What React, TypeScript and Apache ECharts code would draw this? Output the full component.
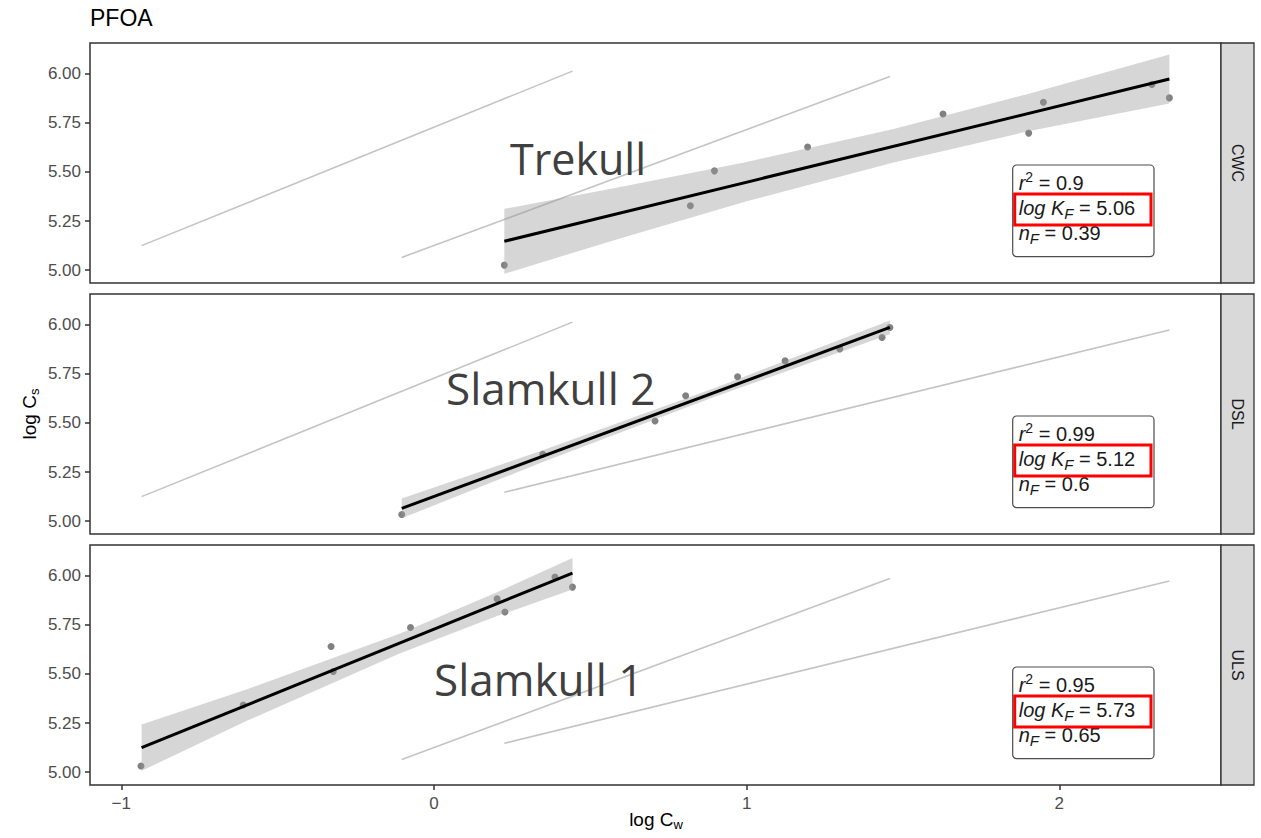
import React, { useEffect, useRef } from "react";
import * as echarts from "echarts";

// ---------- data ----------
const panelIds = ["CWC", "DSL", "ULS"];
const siteNames = ["Trekull", "Slamkull 2", "Slamkull 1"];
const r2Values = ["0.9", "0.99", "0.95"];
const logKFValues = ["5.06", "5.12", "5.73"];
const nFValues = ["0.39", "0.6", "0.65"];

const yTicks = [5.0, 5.25, 5.5, 5.75, 6.0];
const xTicks = [-1, 0, 1, 2];

// observed points (log Cw, log Cs)
const cwcX = [0.225, 0.82, 0.897, 1.195, 1.628, 1.902, 1.949, 2.296, 2.352];
const cwcY = [5.026, 5.328, 5.505, 5.626, 5.794, 5.697, 5.854, 5.944, 5.876];
const dslX = [-0.103, 0.348, 0.707, 0.805, 0.971, 1.123, 1.298, 1.433, 1.458];
const dslY = [5.034, 5.34, 5.509, 5.638, 5.734, 5.815, 5.876, 5.934, 5.985];
const ulsX = [-0.937, -0.61, -0.329, -0.322, -0.075, 0.202, 0.227, 0.387, 0.443];
const ulsY = [5.032, 5.342, 5.639, 5.512, 5.736, 5.881, 5.814, 5.992, 5.941];

// fitted line end points
const cwcFitX = [0.225, 2.352];
const cwcFitY = [5.147, 5.972];
const dslFitX = [-0.103, 1.458];
const dslFitY = [5.065, 5.985];
const ulsFitX = [-0.935, 0.443];
const ulsFitY = [5.125, 6.012];

// confidence bands
const cwcBandX = [0.225, 0.6, 1.0, 1.47, 1.9, 2.352];
const cwcBandLo = [4.982, 5.164, 5.35, 5.548, 5.706, 5.847];
const cwcBandHi = [5.312, 5.424, 5.55, 5.718, 5.896, 6.097];
const dslBandX = [-0.103, 0.35, 0.9, 1.458];
const dslBandLo = [5.015, 5.302, 5.634, 5.95];
const dslBandHi = [5.115, 5.362, 5.678, 6.02];
const ulsBandX = [-0.935, -0.6, -0.11, 0.2, 0.443];
const ulsBandLo = [5.007, 5.26, 5.604, 5.793, 5.929];
const ulsBandHi = [5.243, 5.42, 5.704, 5.913, 6.089];

const pointsX = [cwcX, dslX, ulsX];
const pointsY = [cwcY, dslY, ulsY];
const fitsX = [cwcFitX, dslFitX, ulsFitX];
const fitsY = [cwcFitY, dslFitY, ulsFitY];
const bandsX = [cwcBandX, dslBandX, ulsBandX];
const bandsLo = [cwcBandLo, dslBandLo, ulsBandLo];
const bandsHi = [cwcBandHi, dslBandHi, ulsBandHi];

// ---------- layout ----------
const W = 1261;
const H = 838;
const LEFT = 90;
const PANEL_W = 1131;
const PANEL_H = 240;
const panelTops = [43, 294, 545];
const FONT = "'Liberation Sans', Arial, Helvetica, sans-serif";

const zip = (xs: number[], ys: number[]) => xs.map((x, k) => [x, ys[k]]);

export default function App() {
  const ref = useRef<HTMLDivElement>(null);

  useEffect(() => {
    if (!ref.current) return;
    const chart = echarts.init(ref.current, undefined, { renderer: "svg" });

    const grids = panelTops.map((top) => ({
      left: LEFT,
      top,
      width: PANEL_W,
      height: PANEL_H,
      show: true,
      backgroundColor: "#ffffff",
      borderColor: "#333333",
      borderWidth: 1.5,
    }));

    const xAxes = panelTops.map((_, i) => ({
      type: "value",
      gridIndex: i,
      min: -1.1,
      max: 2.517,
      splitLine: { show: false },
      axisLine: { show: false, onZero: false },
      axisTick: {
        show: i === 2,
        length: 5,
        lineStyle: { color: "#333333", width: 1.5 },
        customValues: xTicks,
      },
      axisLabel: {
        show: i === 2,
        customValues: xTicks,
        color: "#4d4d4d",
        fontSize: 17,
        fontFamily: FONT,
        margin: 10,
        formatter: (v: number) => (v < 0 ? "\u2212" + Math.abs(v) : String(v)),
      },
    }));

    const yAxes = panelTops.map((_, i) => ({
      type: "value",
      gridIndex: i,
      position: "left",
      min: 4.935,
      max: 6.155,
      splitLine: { show: false },
      axisLine: { show: false, onZero: false },
      axisTick: {
        show: true,
        length: 5,
        lineStyle: { color: "#333333", width: 1.5 },
        customValues: yTicks,
      },
      axisLabel: {
        show: true,
        customValues: yTicks,
        color: "#4d4d4d",
        fontSize: 17,
        fontFamily: FONT,
        margin: 9,
        formatter: (v: number) => v.toFixed(2),
      },
    }));

    const series: any[] = [];
    panelTops.forEach((_, i) => {
      // reference lines from the other panels
      [0, 1, 2]
        .filter((j) => j !== i)
        .forEach((j) => {
          series.push({
            type: "line",
            xAxisIndex: i,
            yAxisIndex: i,
            data: zip(fitsX[j], fitsY[j]),
            symbol: "none",
            silent: true,
            lineStyle: { color: "#c4c4c4", width: 1.6 },
            z: 1,
          });
        });
      // points
      series.push({
        type: "scatter",
        xAxisIndex: i,
        yAxisIndex: i,
        data: zip(pointsX[i], pointsY[i]),
        symbolSize: 7,
        itemStyle: { color: "#616161" },
        z: 2,
      });
      // confidence band
      const bx = bandsX[i];
      const blo = bandsLo[i];
      const bhi = bandsHi[i];
      series.push({
        type: "custom",
        xAxisIndex: i,
        yAxisIndex: i,
        data: [[bx[0], blo[0]]],
        silent: true,
        z: 3,
        renderItem: (_p: any, api: any) => {
          const pts: number[][] = [];
          for (let k = 0; k < bx.length; k++) pts.push(api.coord([bx[k], bhi[k]]));
          for (let k = bx.length - 1; k >= 0; k--) pts.push(api.coord([bx[k], blo[k]]));
          return {
            type: "polygon",
            shape: { points: pts },
            style: { fill: "rgba(153,153,153,0.4)", stroke: "none" },
          };
        },
      });
      // fitted line
      series.push({
        type: "line",
        xAxisIndex: i,
        yAxisIndex: i,
        data: zip(fitsX[i], fitsY[i]),
        symbol: "none",
        silent: true,
        lineStyle: { color: "#000000", width: 3 },
        z: 4,
      });
    });

    const graphics: any[] = [];
    // title
    graphics.push({
      type: "text",
      x: 90,
      y: 18,
      style: {
        text: "PFOA",
        fill: "#000000",
        font: `23px ${FONT}`,
        align: "left",
        verticalAlign: "middle",
      },
    });
    // y-axis title
    graphics.push({
      type: "text",
      x: 29,
      y: 414,
      rotation: Math.PI / 2,
      style: {
        text: "{a|log C}{s|s}",
        align: "center",
        verticalAlign: "middle",
        rich: {
          a: { fontSize: 19, fontFamily: FONT, fill: "#000000", lineHeight: 24 },
          s: { fontSize: 13, fontFamily: FONT, fill: "#000000", lineHeight: 14, verticalAlign: "bottom" },
        },
      },
    });
    // x-axis title
    graphics.push({
      type: "text",
      x: 656,
      y: 819,
      style: {
        text: "{a|log C}{s|w}",
        align: "center",
        verticalAlign: "middle",
        rich: {
          a: { fontSize: 19, fontFamily: FONT, fill: "#000000", lineHeight: 24 },
          s: { fontSize: 13, fontFamily: FONT, fill: "#000000", lineHeight: 14, verticalAlign: "bottom" },
        },
      },
    });

    const siteLabelPos = [
      [510, 158],
      [446, 388],
      [434, 679],
    ];

    panelTops.forEach((top, i) => {
      // strip
      graphics.push({
        type: "rect",
        shape: { x: 1221, y: top, width: 33, height: PANEL_H },
        style: { fill: "#d9d9d9", stroke: "#333333", lineWidth: 1.3 },
      });
      graphics.push({
        type: "text",
        x: 1237.5,
        y: top + PANEL_H / 2,
        rotation: -Math.PI / 2,
        style: {
          text: panelIds[i],
          fill: "#1a1a1a",
          font: `16px ${FONT}`,
          align: "center",
          verticalAlign: "middle",
        },
      });
      // site label
      graphics.push({
        type: "text",
        x: siteLabelPos[i][0],
        y: siteLabelPos[i][1],
        z: 100,
        style: {
          text: siteNames[i],
          fill: "#404040",
          font: `${i === 0 ? 43 : 44}px 'Open Sans', 'Noto Sans', sans-serif`,
          align: "left",
          verticalAlign: "middle",
        },
      });
      // stats box
      const base = {
        i: { fontSize: 20, fontFamily: FONT, fontStyle: "italic", fill: "#1a1a1a", lineHeight: 26 },
        n: { fontSize: 20, fontFamily: FONT, fill: "#1a1a1a", lineHeight: 26 },
        sup: { fontSize: 14, fontFamily: FONT, fill: "#1a1a1a", lineHeight: 14, verticalAlign: "top" },
        sub: { fontSize: 15, fontFamily: FONT, fontStyle: "italic", fill: "#1a1a1a", lineHeight: 13, verticalAlign: "bottom" },
      };
      graphics.push({
        type: "group",
        x: 1012.7,
        y: top + 122,
        z: 100,
        children: [
          {
            type: "rect",
            shape: { x: 0, y: 0, width: 141.3, height: 91.7, r: 4 },
            style: { fill: "#ffffff", stroke: "#4d4d4d", lineWidth: 1.2 },
          },
          {
            type: "text",
            x: 6,
            y: 18,
            style: {
              text: `{i|r}{sup|2}{n| = ${r2Values[i]}}`,
              align: "left",
              verticalAlign: "middle",
              rich: base,
            },
          },
          {
            type: "text",
            x: 6,
            y: 43,
            style: {
              text: `{i|log K}{sub|F}{n| = ${logKFValues[i]}}`,
              align: "left",
              verticalAlign: "middle",
              rich: base,
            },
          },
          {
            type: "text",
            x: 6,
            y: 68,
            style: {
              text: `{i|n}{sub|F}{n| = ${nFValues[i]}}`,
              align: "left",
              verticalAlign: "middle",
              rich: base,
            },
          },
          {
            type: "rect",
            shape: { x: 2, y: 29, width: 136.3, height: 31 },
            style: { fill: "none", stroke: "#ff0000", lineWidth: 3 },
          },
        ],
      });
    });

    chart.setOption({
      animation: false,
      backgroundColor: "#ffffff",
      grid: grids,
      xAxis: xAxes,
      yAxis: yAxes,
      series,
      graphic: graphics,
    });

    return () => {
      chart.dispose();
    };
  }, []);

  return (
    <div
      ref={ref}
      style={{ position: "absolute", left: 0, top: 0, width: W, height: H }}
    />
  );
}
